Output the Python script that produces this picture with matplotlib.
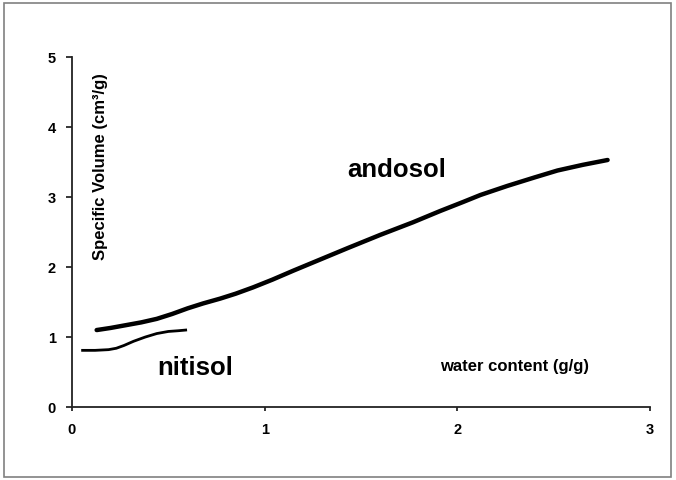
import matplotlib
matplotlib.use("Agg")
import matplotlib.pyplot as plt
from matplotlib.patches import Rectangle

# values
andosol_x = [0.128, 0.20, 0.28, 0.36, 0.44, 0.52, 0.60, 0.68, 0.77, 0.85, 0.94,
             1.04, 1.15, 1.29, 1.43, 1.60, 1.77, 1.91, 2.03, 2.12, 2.26, 2.40,
             2.52, 2.65, 2.78]
andosol_y = [1.10, 1.13, 1.17, 1.21, 1.26, 1.33, 1.41, 1.48, 1.55, 1.62, 1.71,
             1.82, 1.95, 2.11, 2.27, 2.46, 2.64, 2.80, 2.93, 3.03, 3.16, 3.28,
             3.38, 3.46, 3.53]

nitisol_x = [0.055, 0.12, 0.19, 0.23, 0.27, 0.32, 0.38, 0.44, 0.50, 0.55, 0.59]
nitisol_y = [0.81, 0.81, 0.82, 0.84, 0.88, 0.94, 1.00, 1.05, 1.08, 1.09, 1.10]

x_ticks = [0, 1, 2, 3]
y_ticks = [0, 1, 2, 3, 4, 5]

plt.rcParams['font.family'] = ['Liberation Sans', 'DejaVu Sans']

fig = plt.figure(figsize=(6.76, 4.80), dpi=100)
# grey outer frame round the whole chart
fig.patches.append(Rectangle((0.006, 0.006), 0.987, 0.988, transform=fig.transFigure,
                             fill=False, edgecolor="#808080", linewidth=1.2))

ax = fig.add_axes([0.1065, 0.152, 0.855, 0.729])
ax.plot(andosol_x, andosol_y, color="black", linewidth=3.2,
        solid_capstyle="round", solid_joinstyle="round")
ax.plot(nitisol_x, nitisol_y, color="black", linewidth=2.0,
        solid_joinstyle="round")

ax.set_xlim(0, 3)
ax.set_ylim(0, 5)
ax.set_xticks(x_ticks)
ax.set_yticks(y_ticks)
for s in ["top", "right"]:
    ax.spines[s].set_visible(False)
for s in ["left", "bottom"]:
    ax.spines[s].set_linewidth(1.3)
    ax.spines[s].set_color("#222222")
ax.tick_params(axis="y", direction="out", length=4.5, width=1.1, labelsize=10.5, pad=7)
ax.tick_params(axis="x", direction="out", length=3, width=1.1, labelsize=10.5, pad=8.5)
for lab in ax.get_xticklabels() + ax.get_yticklabels():
    lab.set_fontweight("bold")

# labels written inside the plot area
ax.text(1.687, 3.38, "andosol", fontsize=18.5, fontweight="bold", ha="center", va="center")
ax.text(0.638, 0.556, "nitisol", fontsize=18.5, fontweight="bold", ha="center", va="center")
ax.text(2.295, 0.584, "water content (g/g)", fontsize=12, fontweight="bold",
        ha="center", va="center")
ax.text(0.15, 3.43, "Specific Volume (cm³/g)", fontsize=12, fontweight="bold",
        ha="center", va="center", rotation=90)

fig.savefig("out.png", dpi=100)
